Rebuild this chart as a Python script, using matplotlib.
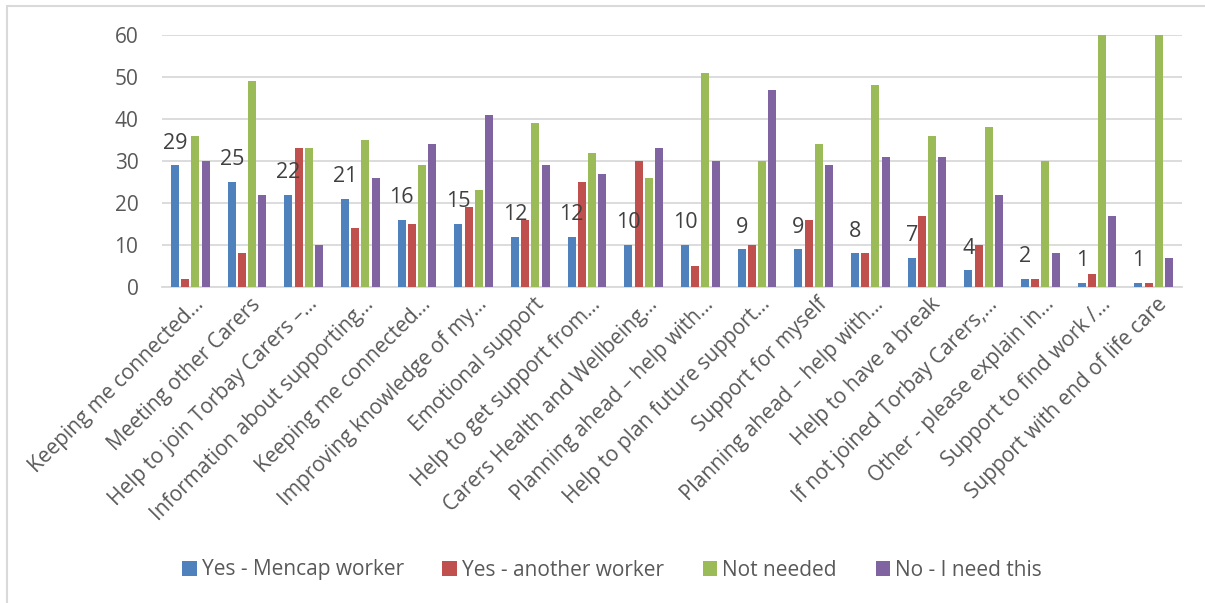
import matplotlib
matplotlib.use("Agg")
import matplotlib.pyplot as plt
import matplotlib.transforms as mtransforms
import numpy as np
from matplotlib.patches import Rectangle

# категории (подписи оси X)
categories = [
    "Keeping me connected…", "Meeting other Carers", "Help to join Torbay Carers –…",
    "Information about supporting…", "Keeping me connected…", "Improving knowledge of my…",
    "Emotional support", "Help to get support from…", "Carers Health and Wellbeing…",
    "Planning ahead – help with…", "Help to plan future support…", "Support for myself",
    "Planning ahead – help with…", "Help to have a break", "If not joined Torbay Carers,…",
    "Other - please explain in…", "Support to find work /…", "Support with end of life care",
]

series_names = ["Yes - Mencap worker", "Yes - another worker", "Not needed", "No - I need this"]
yes_mencap = [29, 25, 22, 21, 16, 15, 12, 12, 10, 10, 9, 9, 8, 7, 4, 2, 1, 1]
yes_other = [2, 8, 33, 14, 15, 19, 16, 25, 30, 5, 10, 16, 8, 17, 10, 2, 3, 1]
not_needed = [36, 49, 33, 35, 29, 23, 39, 32, 26, 51, 30, 34, 48, 36, 38, 30, 60, 60]
need_this = [30, 22, 10, 26, 34, 41, 29, 27, 33, 30, 47, 29, 31, 31, 22, 8, 17, 7]

colors = ["#4F81BD", "#C0504D", "#9BBB59", "#8064A2"]
y_ticks = [0, 10, 20, 30, 40, 50, 60]

TEXT = "#595959"
GRID = "#D9D9D9"
FONT = ["Open Sans", "DejaVu Sans"]

plt.rcParams['font.family'] = FONT

fig = plt.figure(figsize=(12.05, 6.03), dpi=100)
ax = fig.add_axes([162 / 1205, 1 - 287 / 603, (1182 - 162) / 1205, (287 - 35) / 603])

x = np.arange(len(categories))
step = 0.18
width = 0.14
all_series = [yes_mencap, yes_other, not_needed, need_this]
for i, (vals, name, col) in enumerate(zip(all_series, series_names, colors)):
    ax.bar(x + (i - 1.5) * step, vals, width, color=col, label=name, zorder=3)

# подписи значений только для первой серии
for xi, v in zip(x, yes_mencap):
    ax.annotate(str(v), xy=(xi - 1.5 * step, v), xytext=(0, 12), textcoords="offset points",
                ha="center", va="baseline", fontsize=15.5, color="#404040")

ax.set_xlim(-0.5, len(categories) - 0.5)
ax.set_ylim(0, 60)
ax.set_yticks(y_ticks)
ax.yaxis.grid(True, color=GRID, linewidth=1.3, zorder=0)
ax.tick_params(axis="y", length=0, labelsize=15, labelcolor=TEXT, pad=17)
ax.tick_params(axis="x", length=0, labelsize=15, labelcolor=TEXT, pad=5)
ax.set_xticks(x)
ax.set_xticklabels(categories, rotation=45, ha="right", va="top", rotation_mode="anchor")
shift = mtransforms.ScaledTranslation(3 / 100, 0, fig.dpi_scale_trans)
for lbl in ax.get_xticklabels():
    lbl.set_transform(lbl.get_transform() + shift)
for s in ["top", "right", "left"]:
    ax.spines[s].set_visible(False)
ax.spines["bottom"].set_color(GRID)
ax.spines["bottom"].set_linewidth(1.3)

fig.legend(loc="center", bbox_to_anchor=(612 / 1205, 1 - 570 / 603), ncol=4, frameon=False,
           fontsize=15, labelcolor=TEXT, handlelength=0.7, handleheight=0.7, handletextpad=0.25,
           columnspacing=1.85)

# рамка вокруг диаграммы
fig.patches.append(Rectangle((7 / 1205, -0.1), 1.2, 1 - 6 / 603 + 0.1, transform=fig.transFigure,
                             fill=False, edgecolor=GRID, linewidth=1.5))

fig.savefig("out.png", dpi=100)
